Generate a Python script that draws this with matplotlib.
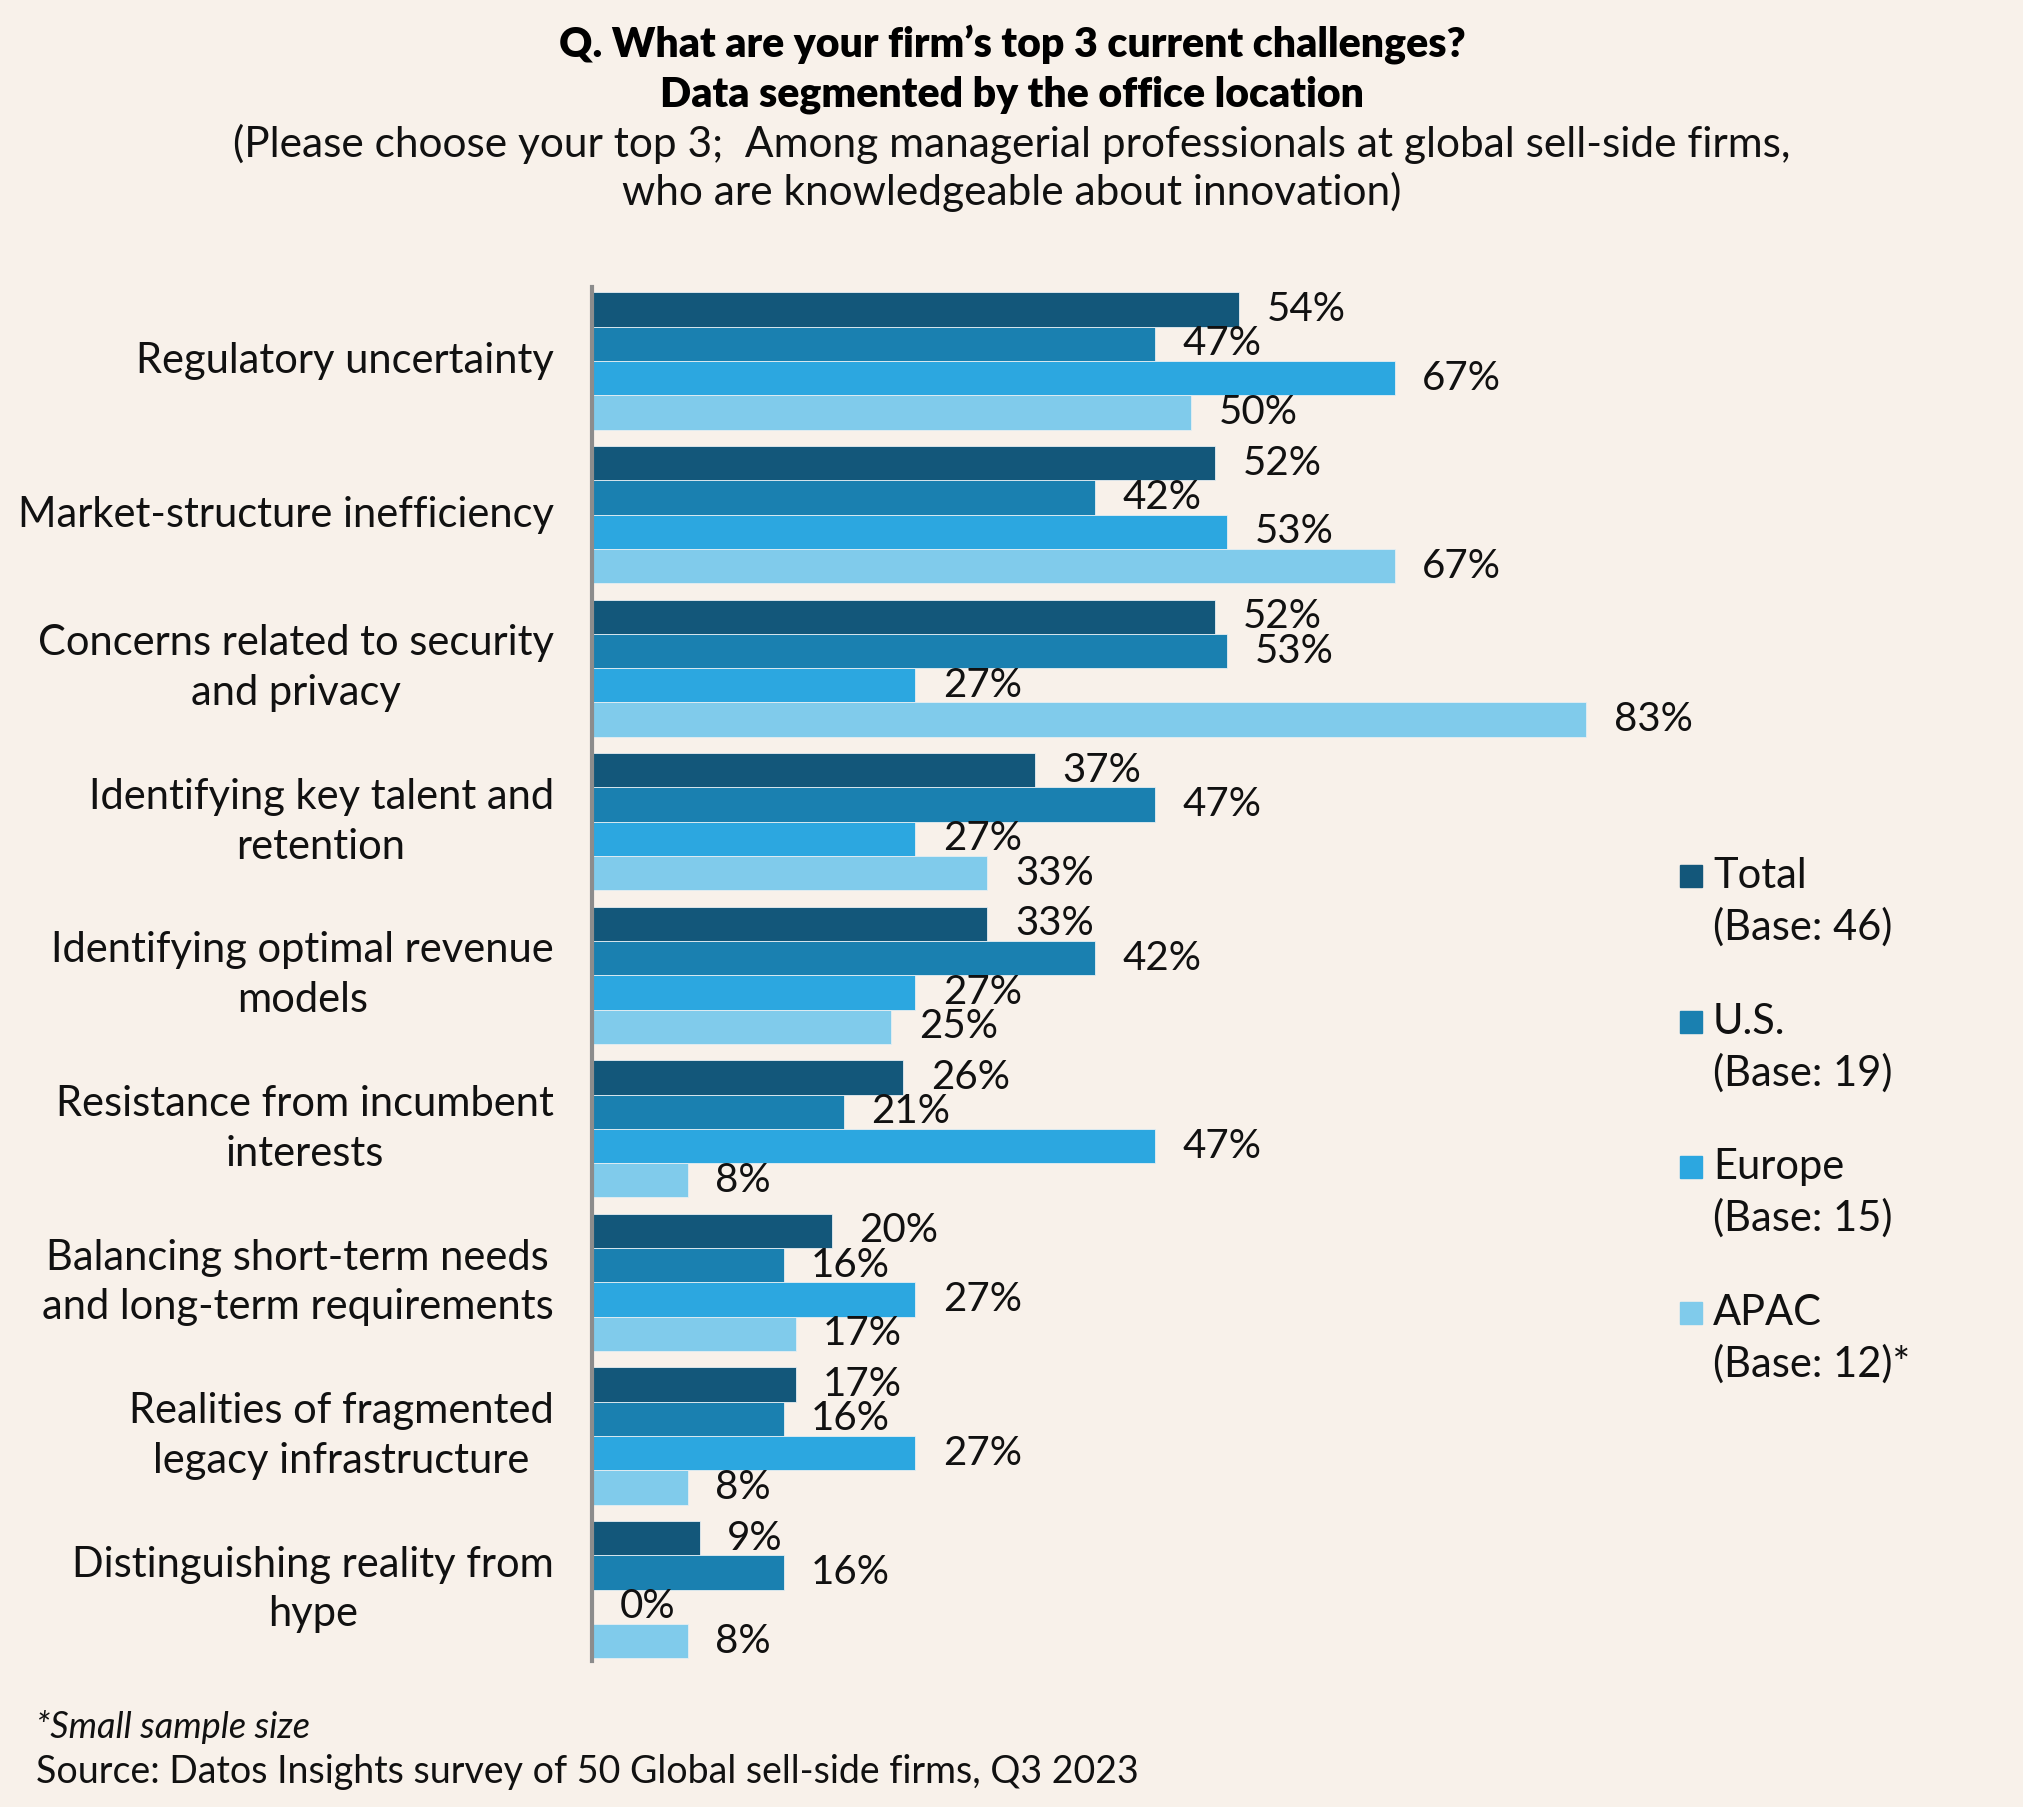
import numpy as np
import matplotlib.pyplot as plt
from matplotlib.patches import Rectangle

# categories and values (%)
categories = [
    "Regulatory uncertainty",
    "Market-structure inefficiency",
    "Concerns related to security\nand privacy",
    "Identifying key talent and\nretention",
    "Identifying optimal revenue\nmodels",
    "Resistance from incumbent\ninterests",
    "Balancing short-term needs\nand long-term requirements",
    "Realities of fragmented\nlegacy infrastructure",
    "Distinguishing reality from\nhype",
]
total = [54, 52, 52, 37, 33, 26, 20, 17, 9]
us = [47, 42, 53, 47, 42, 21, 16, 16, 16]
europe = [67, 53, 27, 27, 27, 47, 27, 27, 0]
apac = [50, 67, 83, 33, 25, 8, 17, 8, 8]

series_names = ["Total", "U.S.", "Europe", "APAC"]
series_bases = ["(Base: 46)", "(Base: 19)", "(Base: 15)", "(Base: 12)*"]
colors = ["#13577A", "#1A80B0", "#2CA7E0", "#80CBEB"]

bg = "#F8F1EA"
W, H = 2024, 1807
plt.rcParams['font.family'] = ['Lato', 'DejaVu Sans']

fig = plt.figure(figsize=(W / 100, H / 100), dpi=100, facecolor=bg)

def fx(px):
    return px / W

def fy(py):
    return 1 - py / H

# axes placed in pixel terms: axis line at x=592, top 287, bottom 1661
ax = fig.add_axes([fx(592), fy(1661), fx(1198), (1661 - 287) / H])
ax.set_facecolor(bg)

n = len(categories)
y = np.arange(n)
h = 0.2234
all_series = [total, us, europe, apac]
for j, (vals, col) in enumerate(zip(all_series, colors)):
    pos = y + (j - 1.5) * h
    ax.barh(pos, vals, height=h, color=col, edgecolor="#E6EEF2", linewidth=0.6)
    for p, v in zip(pos, vals):
        ax.text(v + 2.3, p, f"{v}%", va="center", ha="left", fontsize=29, color="#111111")

ax.set_xlim(0, 100)
ax.set_ylim(8.465, -0.482)
ax.set_xticks([])
ax.set_yticks([])
for s in ["top", "right", "bottom"]:
    ax.spines[s].set_visible(False)
ax.spines["left"].set_color("#8C8C8C")
ax.spines["left"].set_linewidth(3)

# category labels, right-aligned block, centred lines
for i, c in enumerate(categories):
    ax.text(-3.2, i, c, ha="right", va="center", multialignment="center",
            fontsize=30, color="#111111", linespacing=1.38)

# titles
fig.text(0.5, fy(57), "Q. What are your firm\u2019s top 3 current challenges?",
         ha="center", va="baseline", fontsize=29.5, fontweight="heavy", color="#000000")
fig.text(0.5, fy(107), "Data segmented by the office location",
         ha="center", va="baseline", fontsize=29.5, fontweight="heavy", color="#000000")
fig.text(0.5, fy(157), "(Please choose your top 3;  Among managerial professionals at global sell-side firms,",
         ha="center", va="baseline", fontsize=30.5, color="#111111")
fig.text(0.5, fy(205), "who are knowledgeable about innovation)",
         ha="center", va="baseline", fontsize=30.5, color="#111111")

# legend
leg_y = [876, 1022, 1167, 1313]
for name, base, col, ly in zip(series_names, series_bases, colors, leg_y):
    fig.patches.append(Rectangle((fx(1680), fy(ly + 11)), fx(22), 22 / H,
                                 transform=fig.transFigure, color=col))
    fig.text(fx(1713), fy(ly), name, ha="left", va="center", fontsize=30, color="#111111")
    fig.text(fx(1713), fy(ly + 51), base, ha="left", va="center", fontsize=30, color="#111111")

# footer
fig.text(fx(36), fy(1738), "*Small sample size", ha="left", va="baseline",
         fontsize=26, style="italic", color="#111111")
fig.text(fx(36), fy(1783), "Source: Datos Insights survey of 50 Global sell-side firms, Q3 2023",
         ha="left", va="baseline", fontsize=27, color="#111111")

fig.savefig("out.png", dpi=100, facecolor=bg)
